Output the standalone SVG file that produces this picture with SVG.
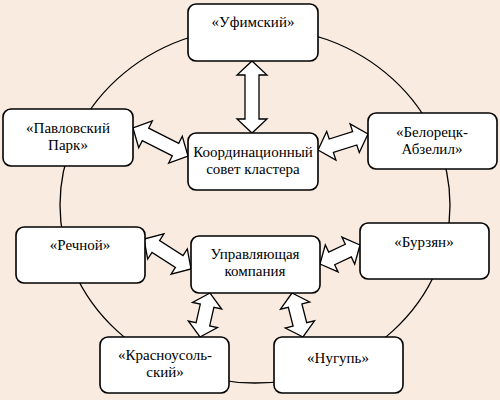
<svg xmlns="http://www.w3.org/2000/svg" width="500" height="400" viewBox="0 0 500 400">
<style>
.bg{fill:#f9ebdf}
.ring{fill:none;stroke:#000;stroke-width:1.3}
.box{fill:#fff;stroke:#000;stroke-width:1.6}
.arr{fill:#fff;stroke:#000;stroke-width:1.3;stroke-linejoin:miter}
.t{font-family:'Liberation Serif','Times New Roman','DejaVu Serif',serif;font-size:15px;fill:#000;text-anchor:middle}
</style>
<rect class="bg" x="0" y="0" width="500" height="400"/>
<ellipse class="ring" cx="255" cy="205" rx="195" ry="178"/>
<g id="connectors">
<polygon class="arr" points="252,61 267,75 259,75 259,119 267,119 252,133 237,119 245,119 245,75 237,75"/>
<polygon class="arr" points="133,128 138.7,147.8 142.3,140.6 172.3,155.8 168.7,163 188,156 182.3,136.2 178.7,143.4 148.7,128.2 152.3,121"/>
<polygon class="arr" points="318,150 335.9,160 333.4,152.4 356.8,145 359.3,152.6 368,134 350.1,124 352.6,131.6 329.2,139 326.7,131.4"/>
<polygon class="arr" points="144,239 147.7,259.1 152,252.4 175.4,267.4 171.1,274.1 191,269 187.3,248.9 183,255.6 159.6,240.6 163.9,233.9"/>
<polygon class="arr" points="320,264 338.1,271.9 334.7,264.7 351.3,256.9 354.7,264.1 360,245 341.9,237.1 345.3,244.3 328.7,252.1 325.3,244.9"/>
<polygon class="arr" points="210,293 192.5,302.4 200.3,304.1 196.1,322.7 188.3,321 200,337 217.5,327.6 209.7,325.9 213.9,307.3 221.7,309"/>
<polygon class="arr" points="292,293 280.5,309.2 288.3,307.3 293.1,326.1 285.3,328 303,337 314.5,320.8 306.7,322.7 301.9,303.9 309.7,302"/>
</g>
<g class="t" font-family="Liberation Serif, DejaVu Serif, serif">
<g id="ufimsky"><rect class="box" x="188" y="4" width="130" height="57" rx="8"/><text x="253" y="27">«Уфимский»</text></g>
<g id="pavlovsky"><rect class="box" x="3" y="109" width="130" height="57" rx="8"/><text x="68" y="133">«Павловский</text><text x="68" y="150">Парк»</text></g>
<g id="council"><rect class="box" x="188" y="133" width="130" height="57" rx="8"/><text x="253" y="157">Координационный</text><text x="253" y="174">совет кластера</text></g>
<g id="beloretsk"><rect class="box" x="368" y="113" width="129" height="56" rx="8"/><text x="432" y="137">«Белорецк-</text><text x="432" y="154">Абзелил»</text></g>
<g id="rechnoy"><rect class="box" x="16" y="227" width="129" height="56" rx="8"/><text x="80" y="250">«Речной»</text></g>
<g id="company"><rect class="box" x="191" y="236" width="129" height="57" rx="8"/><text x="255" y="259">Управляющая</text><text x="255" y="276">компания</text></g>
<g id="burzyan"><rect class="box" x="360" y="223" width="129" height="56" rx="8"/><text x="424" y="247">«Бурзян»</text></g>
<g id="krasnousolsky"><rect class="box" x="100" y="337" width="129" height="56" rx="8"/><text x="165" y="360">«Красноусоль-</text><text x="165" y="377">ский»</text></g>
<g id="nugush"><rect class="box" x="274" y="337" width="129" height="56" rx="8"/><text x="338" y="363">«Нугупь»</text></g>
</g>
</svg>
